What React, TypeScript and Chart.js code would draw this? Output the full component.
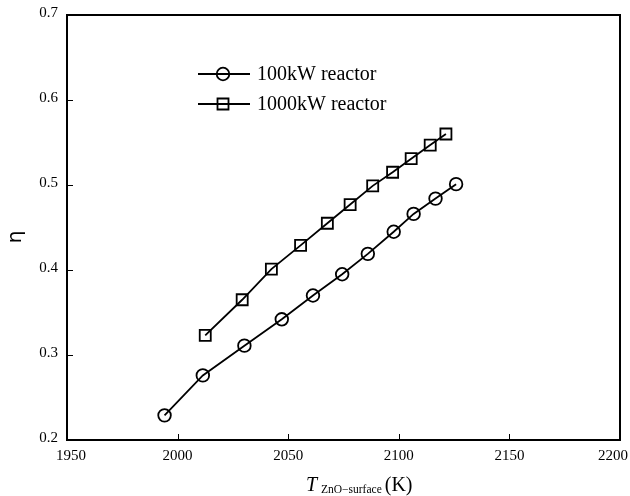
import React, { useEffect, useRef } from "react";
import { Chart, registerables } from "chart.js";

Chart.register(...registerables);

const tempSmall = [1994.1, 2011.4, 2030.2, 2047.1, 2061.2, 2074.4, 2086.0, 2097.7, 2106.7, 2116.6, 2125.9];
const etaSmall = [0.229, 0.276, 0.311, 0.342, 0.370, 0.395, 0.419, 0.445, 0.466, 0.484, 0.501];
const tempLarge = [2012.5, 2029.2, 2042.4, 2055.6, 2067.7, 2078.0, 2088.2, 2097.2, 2105.6, 2114.2, 2121.3];
const etaLarge = [0.323, 0.365, 0.401, 0.429, 0.455, 0.477, 0.499, 0.515, 0.531, 0.547, 0.560];
const seriesNames = ["100kW reactor", "1000kW reactor"];
const xTicks = [1950, 2000, 2050, 2100, 2150, 2200];
const yTicks = [0.2, 0.3, 0.4, 0.5, 0.6, 0.7];

const SERIF = "'Liberation Serif', 'Times New Roman', serif";

const framePlugin = {
  id: "frame",
  afterDraw(chart: any) {
    const { ctx, chartArea: a, scales } = chart;
    const xs = scales.x;
    const ys = scales.y;
    ctx.save();
    ctx.strokeStyle = "#000";
    ctx.fillStyle = "#000";
    ctx.lineWidth = 2;
    ctx.strokeRect(a.left, a.top, a.right - a.left, a.bottom - a.top);
    ctx.lineWidth = 1;
    ctx.beginPath();
    xTicks.forEach((t) => {
      const px = Math.round(xs.getPixelForValue(t)) + 0.5;
      ctx.moveTo(px, a.bottom);
      ctx.lineTo(px, a.bottom - 6);
    });
    yTicks.forEach((t) => {
      const py = Math.round(ys.getPixelForValue(t)) + 0.5;
      ctx.moveTo(a.left, py);
      ctx.lineTo(a.left + 6, py);
    });
    ctx.stroke();

    // tick labels
    ctx.font = `15px ${SERIF}`;
    ctx.textBaseline = "middle";
    ctx.textAlign = "center";
    xTicks.forEach((t, i) => {
      let px = xs.getPixelForValue(t);
      if (i === 0) px += 4;
      if (i === xTicks.length - 1) px -= 7;
      ctx.fillText(String(t), px, a.bottom + 16);
    });
    ctx.textAlign = "right";
    yTicks.forEach((t) => {
      ctx.fillText(t.toFixed(1), a.left - 9, ys.getPixelForValue(t) - 2);
    });

    // legend
    const lx0 = 198, lx1 = 250, textX = 257;
    const rows = [74, 104];
    rows.forEach((ry, i) => {
      ctx.lineWidth = 1.8;
      ctx.beginPath();
      ctx.moveTo(lx0, ry);
      ctx.lineTo(lx1, ry);
      ctx.stroke();
      const cx = 223;
      ctx.beginPath();
      if (i === 0) {
        ctx.arc(cx, ry, 6.3, 0, Math.PI * 2);
      } else {
        ctx.rect(cx - 5.5, ry - 5.5, 11, 11);
      }
      ctx.stroke();
      ctx.font = `20px ${SERIF}`;
      ctx.textBaseline = "middle";
      ctx.textAlign = "left";
      ctx.fillText(seriesNames[i], textX, ry + 1);
    });

    // x title
    ctx.textBaseline = "alphabetic";
    ctx.textAlign = "left";
    let x = 306;
    const by = 491;
    ctx.font = `italic 20px ${SERIF}`;
    ctx.fillText("T", x, by);
    x = 321;
    ctx.font = `11.5px ${SERIF}`;
    ctx.fillText("ZnO\u2212surface", x, by + 2);
    x += ctx.measureText("ZnO\u2212surface").width + 3;
    ctx.font = `20px ${SERIF}`;
    ctx.fillText("(K)", x, by);

    // y title
    ctx.save();
    ctx.translate(16, 237);
    ctx.rotate(-Math.PI / 2);
    ctx.font = `20px 'DejaVu Sans', sans-serif`;
    ctx.textAlign = "center";
    ctx.textBaseline = "middle";
    ctx.fillText("\u03b7", 0, 0);
    ctx.restore();
    ctx.restore();
  },
};

export default function App() {
  const ref = useRef<HTMLCanvasElement | null>(null);
  useEffect(() => {
    document.body.style.margin = "0";
    const canvas = ref.current!;
    const chart = new Chart(canvas, {
      type: "line",
      data: {
        datasets: [
          {
            label: seriesNames[0],
            data: tempSmall.map((t, i) => ({ x: t, y: etaSmall[i] })),
            borderColor: "#000",
            borderWidth: 1.8,
            pointStyle: "circle",
            pointRadius: 6.3,
            pointBorderWidth: 1.8,
            pointBorderColor: "#000",
            pointBackgroundColor: "rgba(0,0,0,0)",
            tension: 0,
          },
          {
            label: seriesNames[1],
            data: tempLarge.map((t, i) => ({ x: t, y: etaLarge[i] })),
            borderColor: "#000",
            borderWidth: 1.8,
            pointStyle: "rect",
            pointRadius: 7.8,
            pointBorderWidth: 1.8,
            pointBorderColor: "#000",
            pointBackgroundColor: "rgba(0,0,0,0)",
            tension: 0,
          },
        ],
      },
      options: {
        animation: false,
        responsive: false,
        devicePixelRatio: 1,
        layout: { padding: { top: 15, right: 10, left: 0, bottom: 0 } },
        plugins: { legend: { display: false }, tooltip: { enabled: false } },
        scales: {
          x: {
            type: "linear",
            min: 1950,
            max: 2200,
            grid: { display: false },
            border: { display: false },
            ticks: { display: false },
            afterFit: (s: any) => {
              s.height = 56;
            },
          },
          y: {
            type: "linear",
            min: 0.2,
            max: 0.7,
            grid: { display: false },
            border: { display: false },
            ticks: { display: false },
            afterFit: (s: any) => {
              s.width = 67;
            },
          },
        },
      },
      plugins: [framePlugin],
    });
    return () => chart.destroy();
  }, []);
  return (
    <div style={{ position: "absolute", left: 0, top: 0, width: 630, height: 496, background: "#fff" }}>
      <canvas ref={ref} width={630} height={496} />
    </div>
  );
}
